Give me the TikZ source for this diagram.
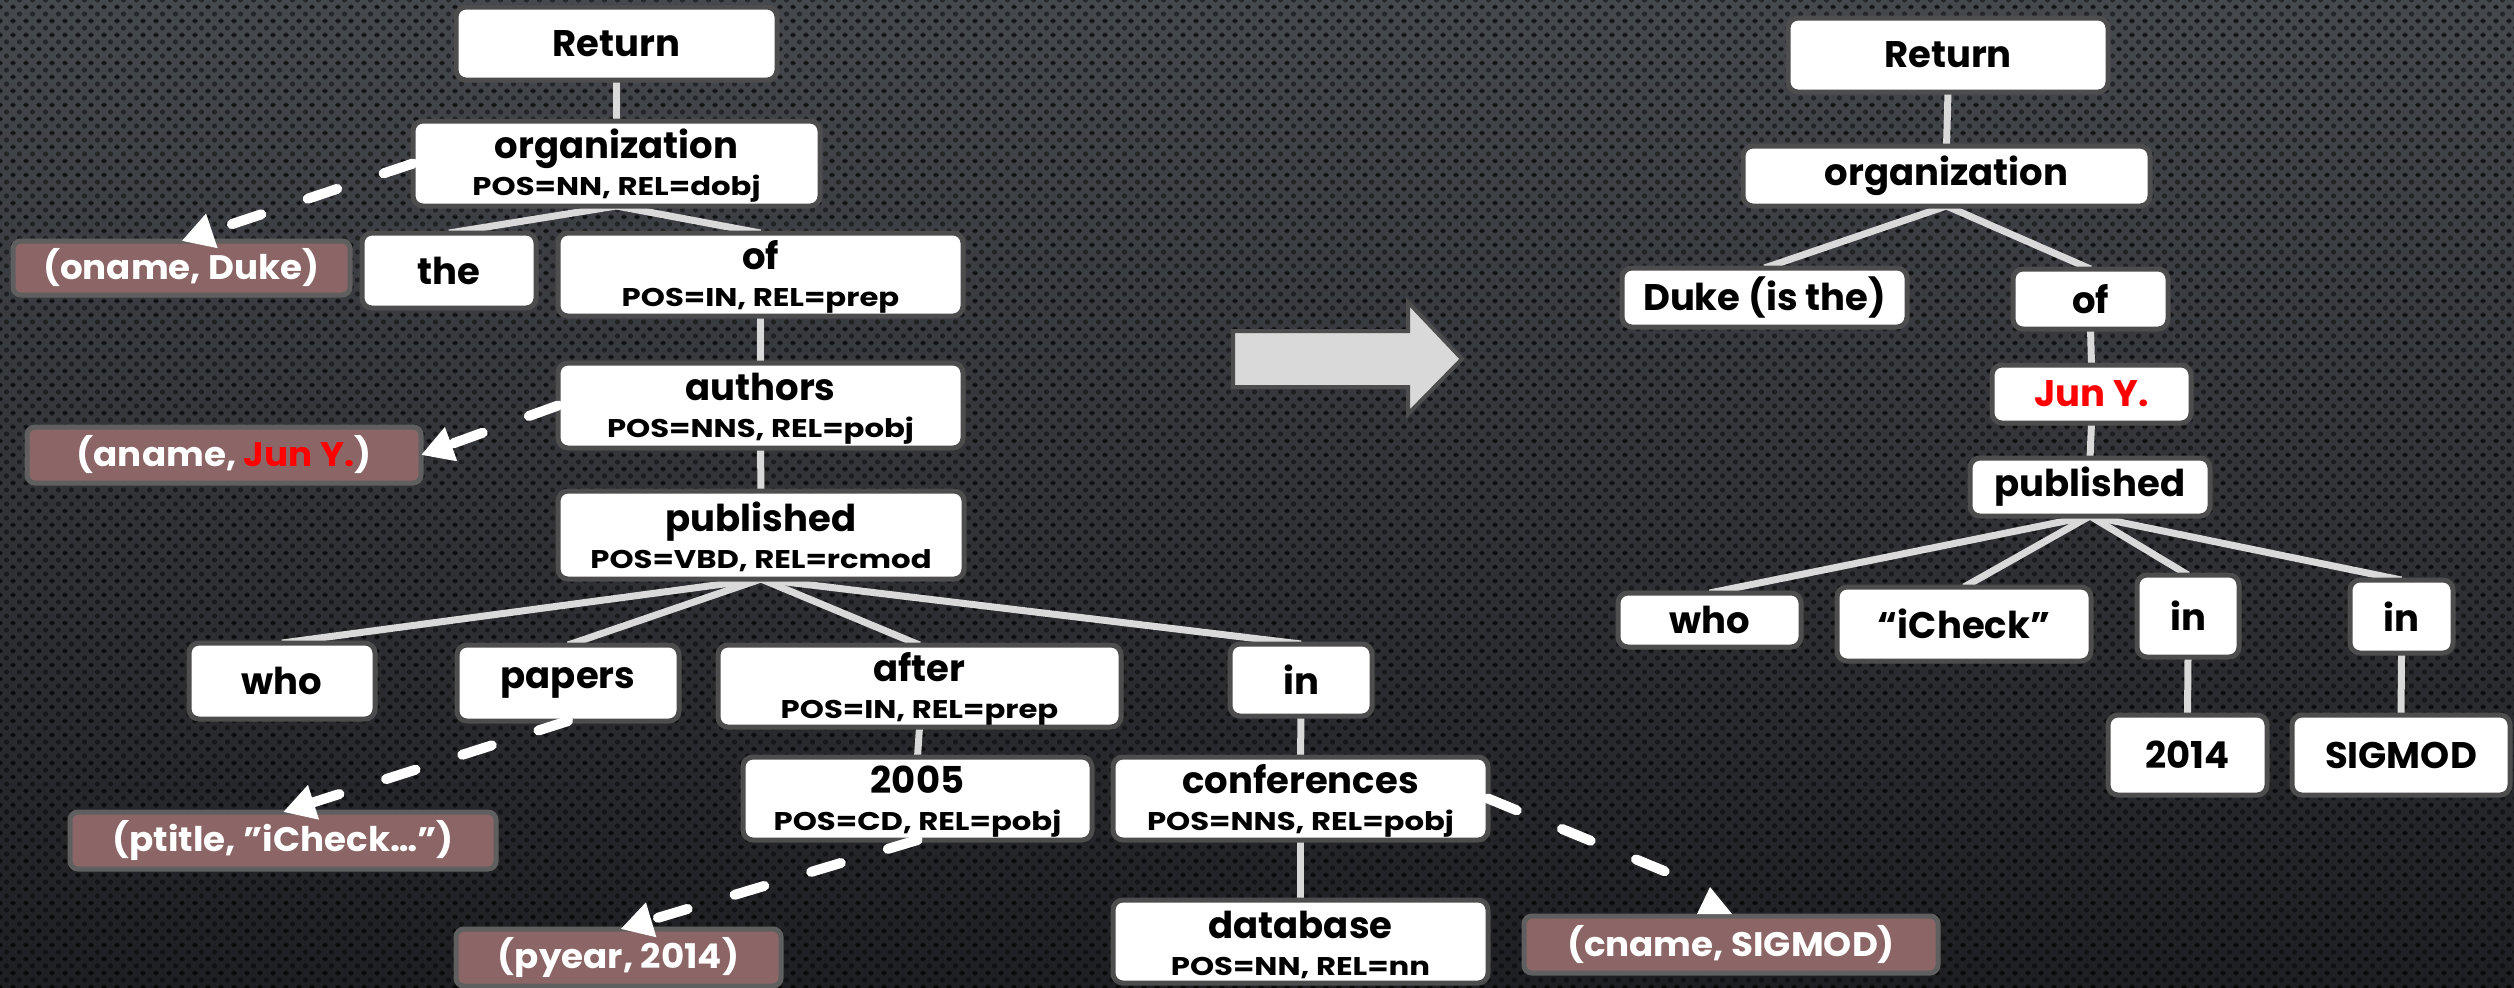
\documentclass[tikz,border=0pt]{standalone}
\usepackage{fontspec}
\setmainfont{Poppins}
\newfontfamily\posfont{Poppins}[FakeStretch=1.2]
\newfontfamily\brfont{Poppins}[FakeStretch=1.05]
\usetikzlibrary{arrows.meta,calc,patterns.meta}
\definecolor{edgec}{HTML}{D9D9D9}
\definecolor{boxline}{HTML}{4D4D4D}
\definecolor{brownf}{HTML}{8C6666}
\definecolor{bgtop}{HTML}{45484D}
\definecolor{bgbot}{HTML}{1E1F22}
\definecolor{jred}{HTML}{FF0000}
\newcommand\mf{\fontsize{18.5}{18.5}\selectfont\bfseries}
\newcommand\pf{\posfont\fontsize{12.8}{18.5}\selectfont\bfseries}
\newcommand\brf{\brfont\fontsize{17}{19}\selectfont\bfseries}
\newcommand\up{\rule{0pt}{17pt}}
\tikzdeclarepattern{name=hexdots,type=uncolored,
  bottom left={(-0.1pt,-0.1pt)}, top right={(6.6pt,7.1pt)},
  tile size={(6.5pt,7pt)},
  code={\fill (0pt,0pt) circle (1.3pt); \fill (6.5pt,0pt) circle (1.3pt);
        \fill (0pt,7pt) circle (1.3pt); \fill (6.5pt,7pt) circle (1.3pt);
        \fill (3.25pt,3.5pt) circle (1.3pt);}}
\pgfdeclarelayer{bg}
\pgfdeclarelayer{edges}
\pgfsetlayers{bg,edges,main}
\tikzset{
  sz/.style 2 args={minimum width=#1*0.5pt, minimum height=#2*0.5pt},
  tb/.style={draw=boxline, line width=2.5pt, fill=white, rounded corners=5pt,
    inner sep=0pt, outer sep=0pt, align=center, text=black, font=\mf},
  br/.style={draw=boxline!90, line width=2.5pt, fill=brownf, rounded corners=4pt,
    inner sep=0pt, outer sep=0pt, align=center, text=white, font=\brf},
  edge/.style={draw=edgec, line width=3.5pt},
  dsh/.style={draw=white, line width=5pt, line cap=round,
    dash pattern=on 15.5pt off 24.5pt, -{Triangle[width=17pt,length=16pt]}},
}
\begin{document}
\begin{tikzpicture}[x=0.5pt,y=-0.5pt]
\useasboundingbox (0,0) rectangle (2514,987);
\begin{pgfonlayer}{bg}
\shade[top color=bgtop, bottom color=bgbot] (0,0) rectangle (2514,987);
\fill[pattern={hexdots}, pattern color=black, opacity=0.45] (0,0) rectangle (2514,987);
\end{pgfonlayer}

% ---- left tree ----
\node[tb,sz={321}{73}] (Lret) at (616.5,43.5) {Return};
\node[tb,sz={407}{85}] (Lorg) at (616.5,163.5) {\up organization\\{\pf POS=NN, REL=dobj}};
\node[br,sz={337}{54}] (oname) at (181.5,268) {(oname, Duke)};
\node[tb,sz={174}{75}] (the) at (449,270.5) {the};
\node[tb,sz={405}{83}] (Lof) at (760.5,274.5) {\up of\\{\pf POS=IN, REL=prep}};
\node[tb,sz={405}{85}] (authors) at (760.5,405.5) {\up authors\\{\pf POS=NNS, REL=pobj}};
\node[br,sz={394}{56}] (aname) at (224,455) {(aname, \textcolor{jred}{Jun Y.})};
\node[tb,sz={406}{88}] (Lpub) at (761,535) {\up published\\{\pf POS=VBD, REL=rcmod}};
\node[tb,sz={186}{76}] (Lwho) at (282,681) {who};
\node[tb,sz={222}{76}] (papers) at (568,683) {papers};
\node[tb,sz={403}{82}] (after) at (919.5,686) {\up after\\{\pf POS=IN, REL=prep}};
\node[tb,sz={142}{72}] (Lin) at (1301,680) {in};
\node[br,sz={426}{57}] (ptitle) at (283,840.5) {(ptitle, ”iCheck…”)};
\node[tb,sz={349}{83}] (y2005) at (917.5,798.5) {\up 2005\\{\pf POS=CD, REL=pobj}};
\node[tb,sz={375}{83}] (conf) at (1300.5,798.5) {\up conferences\\{\pf POS=NNS, REL=pobj}};
\node[tb,sz={375}{83}] (database) at (1300.5,941.5) {\up database\\{\pf POS=NN, REL=nn}};
\node[br,sz={325}{57}] (pyear) at (618.5,957.5) {(pyear, 2014)};
\node[br,sz={414}{57}] (cname) at (1731,944.5) {(cname, SIGMOD)};

% ---- big arrow ----
\draw[draw=boxline, line width=2pt, fill=edgec]
  (1233,331) -- (1408,331) -- (1408,302) -- (1462,359) -- (1408,414) -- (1408,387) -- (1233,387) -- cycle;

% ---- right tree ----
\node[tb,sz={320}{74}] (Rret) at (1948,55) {Return};
\node[tb,sz={407}{60}] (Rorg) at (1946.5,176) {organization};
\node[tb,sz={285}{59}] (duke) at (1764.5,297.5) {Duke (is the)};
\node[tb,sz={155}{60}] (Rof) at (2090.5,299) {of};
\node[tb,sz={199}{58}] (jun) at (2091.5,394) {\textcolor{jred}{Jun Y.}};
\node[tb,sz={240}{58}] (Rpub) at (2090,487) {published};
\node[tb,sz={183}{54}] (Rwho) at (1709.5,620) {who};
\node[tb,sz={254}{74}] (icheck) at (1964,624) {“iCheck”};
\node[tb,sz={102}{82}] (in1) at (2188,616) {in};
\node[tb,sz={103}{73}] (in2) at (2401.5,616.5) {in};
\node[tb,sz={159}{80}] (y2014) at (2187.5,755) {2014};
\node[tb,sz={218}{80}] (sigmod) at (2401,755) {SIGMOD};

\begin{pgfonlayer}{edges}
\draw[edge] (Lret.south) -- (Lorg.north);
\draw[edge] (Lorg.south) -- (the.north);
\draw[edge] (Lorg.south) -- (Lof.north);
\draw[edge] (Lof.south) -- (authors.north);
\draw[edge] (authors.south) -- (Lpub.north);
\draw[edge] (Lpub.south) -- (Lwho.north);
\draw[edge] (Lpub.south) -- (papers.north);
\draw[edge] (Lpub.south) -- (after.north);
\draw[edge] (Lpub.south) -- (Lin.north);
\draw[edge] (after.south) -- (y2005.north);
\draw[edge] (Lin.south) -- (conf.north);
\draw[edge] (conf.south) -- (database.north);
\draw[edge] (Rret.south) -- (Rorg.north);
\draw[edge] (Rorg.south) -- (duke.north);
\draw[edge] (Rorg.south) -- (Rof.north);
\draw[edge] (Rof.south) -- (jun.north);
\draw[edge] (jun.south) -- (Rpub.north);
\draw[edge] (Rpub.south) -- (Rwho.north);
\draw[edge] (Rpub.south) -- (icheck.north);
\draw[edge] (Rpub.south) -- (in1.north);
\draw[edge] (Rpub.south) -- (in2.north);
\draw[edge] (in1.south) -- (y2014.north);
\draw[edge] (in2.south) -- (sigmod.north);
\end{pgfonlayer}

% ---- dashed arrows ----
\draw[dsh] (Lorg.west) -- (oname.north);
\draw[dsh] (authors.west) -- (aname.east);
\draw[dsh] (papers.south) -- (ptitle.north);
\draw[dsh] (y2005.south) -- ($(pyear.north)+(2,0)$);
\coordinate (cend) at ($(cname.north)+(-45,-36)$);
\draw[draw=white, line width=5pt, line cap=round, dash pattern=on 15.5pt off 24.5pt] (conf.east) -- (cend);
\fill[white] ($(cname.north)+(-34,-2)$) -- ($(cname.north)+(1,-2)$) -- ($(cname.north)+(-21,-29)$) -- cycle;
\end{tikzpicture}
\end{document}
